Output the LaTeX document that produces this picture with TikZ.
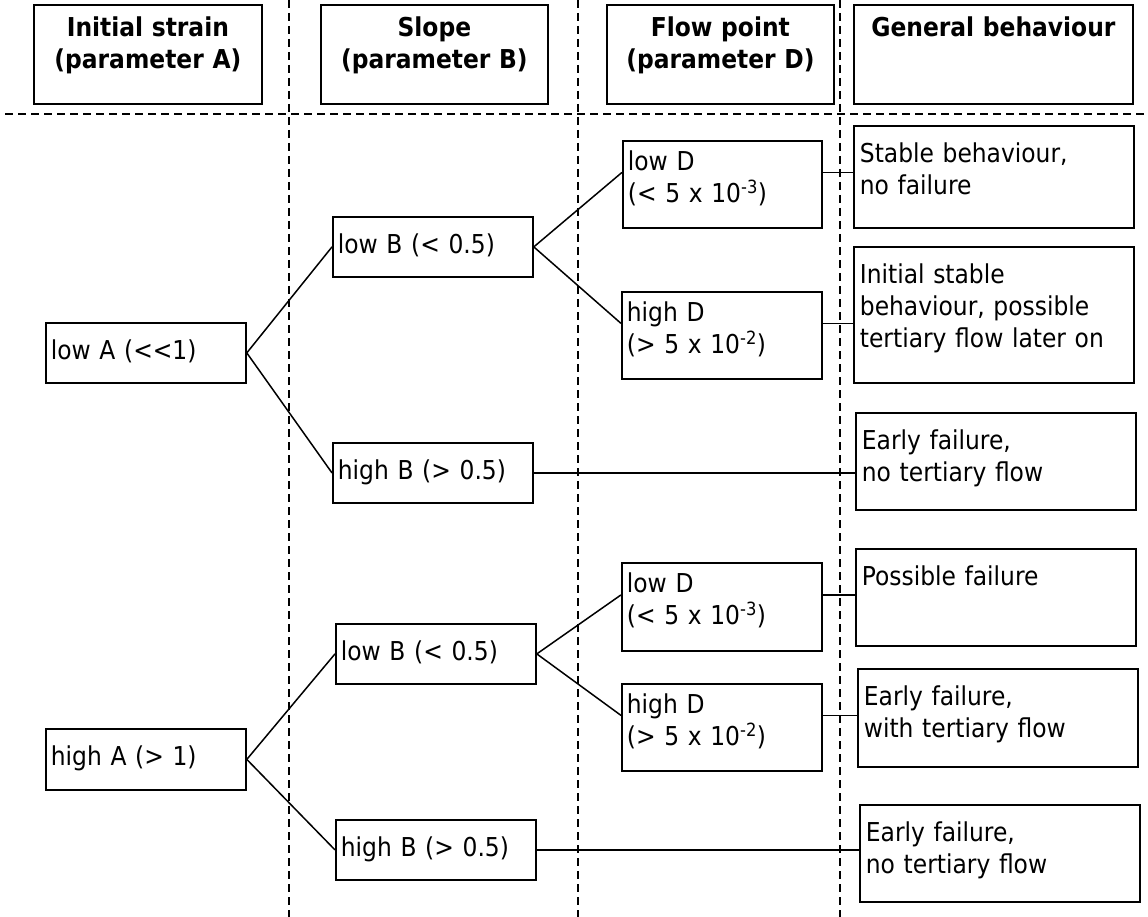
\documentclass[tikz,border=0pt]{standalone}
\usepackage{fontspec}
\setmainfont{DejaVuSansCondensed}[Extension=.ttf, BoldFont=DejaVuSansCondensed-Bold]
\usepackage{tikz}
\tikzset{
  cbox/.style={draw, line width=1.8pt, anchor=north west, inner xsep=5pt, inner ysep=0pt, align=left, font=\fontsize{26}{32}\selectfont},
  hbox/.style={cbox, inner xsep=0pt, align=center, font=\fontsize{26}{32}\selectfont\bfseries, text height=32pt, text depth=67pt},
  sbox/.style={cbox, text width=190pt, text height=37pt, text depth=23pt},
  dbox/.style={cbox, text width=190pt, text height=30pt, text depth=57pt},
  gbox/.style={cbox, inner xsep=6pt, text width=268pt, text height=37pt},
  link/.style={line width=1.5pt},
  sep/.style={dash pattern=on 8pt off 5pt, line width=1.3pt},
}

\begin{document}
\begin{tikzpicture}[x=1pt, y=-1pt]
    \useasboundingbox (0,0) rectangle (1148,917);
    % column and header separators
    \draw[sep] (289,0) -- (289,917);
    \draw[sep] (578,0) -- (578,917);
    \draw[sep] (840,0) -- (840,917);
    \draw[sep] (5,114) -- (1148,114);

    \node[hbox, text width=228pt] (hA) at (33,4) {Initial strain\\(parameter A)};
    \node[hbox, text width=227pt] (hB) at (320,4) {Slope\\(parameter B)};
    \node[hbox, text width=227pt] (hD) at (606,4) {Flow point\\(parameter D)};
    \node[hbox, text width=279pt] (hG) at (853,4) {General behaviour};

    \node[sbox] (lowA) at (45,322) {low A (<\kern0pt<1)};
    \node[sbox] (lowB1) at (332,216) {low B (< 0.5)};
    \node[sbox] (highB1) at (332,442) {high B (> 0.5)};
    \node[dbox, text width=189pt] (lowD1) at (622,140) {low D\\(< 5 x 10\textsuperscript{-3})};
    \node[dbox] (highD1) at (621,291) {high D\\(> 5 x 10\textsuperscript{-2})};

    \node[sbox, text depth=24pt] (highA) at (45,728) {high A (> 1)};
    \node[sbox] (lowB2) at (335,623) {low B (< 0.5)};
    \node[sbox] (highB2) at (335,819) {high B (> 0.5)};
    \node[dbox, text depth=58pt] (lowD2) at (621,562) {low D\\(< 5 x 10\textsuperscript{-3})};
    \node[dbox] (highD2) at (621,683) {high D\\(> 5 x 10\textsuperscript{-2})};

    \node[gbox, text depth=65pt] (beh1) at (853,125) {Stable behaviour,\\no failure};
    \node[gbox, text depth=99pt] (beh2) at (853,246) {Initial stable\\behaviour, possible\\tertiary flow later on};
    \node[gbox, text depth=60pt] (beh3) at (855,412) {Early failure,\\no tertiary flow};
    \node[gbox, text depth=60pt] (beh4) at (855,548) {Possible failure};
    \node[gbox, text depth=61pt] (beh5) at (857,668) {Early failure,\\with tertiary flow};
    \node[gbox, text depth=60pt] (beh6) at (859,804) {Early failure,\\no tertiary flow};

    \coordinate (oD1) at ([yshift=12pt]lowD1.east);
    \coordinate (oD2) at ([yshift=12pt]highD1.east);
    \coordinate (oD3) at ([yshift=12pt]lowD2.east);
    \coordinate (oD4) at ([yshift=12pt]highD2.east);

    \draw[link] (lowA.east) -- (lowB1.west);
    \draw[link] (lowA.east) -- (highB1.west);
    \draw[link] (lowB1.east) -- ([yshift=12pt]lowD1.west);
    \draw[link] (lowB1.east) -- ([yshift=12pt]highD1.west);
    \draw[link] (oD1) -- (oD1 -| beh1.west);
    \draw[link] (oD2) -- (oD2 -| beh2.west);
    \draw[link] (highB1.east) -- (highB1.east -| beh3.west);

    \draw[link] (highA.east) -- (lowB2.west);
    \draw[link] (highA.east) -- (highB2.west);
    \draw[link] (lowB2.east) -- ([yshift=12pt]lowD2.west);
    \draw[link] (lowB2.east) -- ([yshift=12pt]highD2.west);
    \draw[link] (oD3) -- (oD3 -| beh4.west);
    \draw[link] (oD4) -- (oD4 -| beh5.west);
    \draw[link] (highB2.east) -- (highB2.east -| beh6.west);
  \end{tikzpicture}
\end{document}
